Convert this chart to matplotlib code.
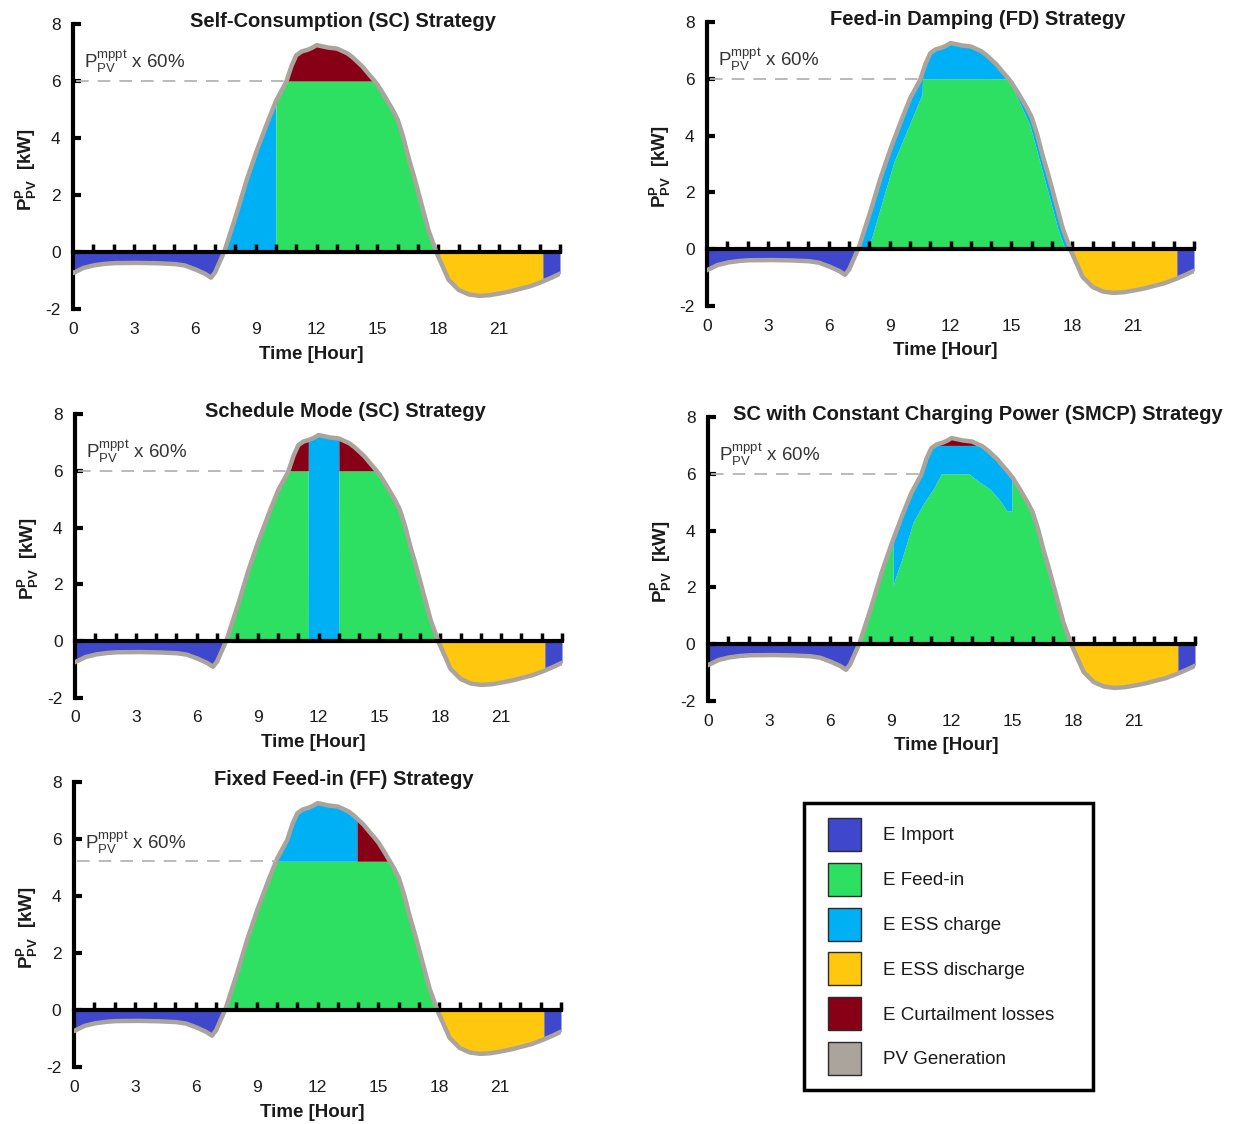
import numpy as np
import matplotlib
matplotlib.use("Agg")
import matplotlib.pyplot as plt
from matplotlib.patches import Patch
from matplotlib.legend_handler import HandlerPatch

plt.rcParams['font.family'] = ['Liberation Sans', 'DejaVu Sans']
plt.rcParams['mathtext.fontset'] = 'custom'
plt.rcParams['mathtext.rm'] = 'Liberation Sans'
plt.rcParams['mathtext.it'] = 'Liberation Sans:italic'
plt.rcParams['mathtext.bf'] = 'Liberation Sans:bold'
plt.rcParams['axes.unicode_minus'] = False

# net PV power over the day, same for every strategy
HOURS = [0, 0.5, 1, 1.5, 2, 3, 4, 5, 5.5, 6, 6.5, 6.8, 7, 7.45, 8, 8.5, 9, 9.5, 10,
         10.5, 10.75, 11, 11.25, 11.5, 11.75, 12, 12.5, 13, 13.5, 13.75, 14, 14.25, 14.5,
         14.75, 15, 15.25, 15.5, 15.75, 16, 16.25, 16.5, 16.75, 17, 17.5,
         17.9, 18.5, 19, 19.5, 20, 20.5, 21, 21.5, 22, 22.5, 23, 23.5, 24]
PV_NET = [-0.74, -0.56, -0.47, -0.42, -0.39, -0.38, -0.39, -0.42, -0.47, -0.60, -0.76,
          -0.90, -0.72, 0.0, 1.2, 2.4, 3.45, 4.4, 5.3,
          5.95, 6.5, 6.9, 7.03, 7.08, 7.15, 7.26, 7.18, 7.14, 6.98, 6.85, 6.68, 6.52, 6.3,
          6.1, 5.88, 5.6, 5.3, 5.0, 4.65, 4.1, 3.4, 2.8, 2.15, 0.8,
          0.0, -0.97, -1.33, -1.49, -1.54, -1.52, -1.46, -1.39, -1.3, -1.21, -1.08, -0.93, -0.76]

# feed-in limit per strategy [kW]
LIMIT_SC = 6.0
LIMIT_FF = 5.22
IMPORT_RESUME = 23.15      # ESS empty -> grid import again
SC_CHARGE_END = 10.0       # self consumption: ESS full
SCHED_WINDOW = (11.5, 13.0)
FF_CHARGE_END = 13.95

# feed-in damping: feed-in profile
FD_HOURS = [7.95, 9.2, 10.6, 10.62, 15.0, 15.05, 15.9, 17.3, 17.65]
FD_FEED = [0.0, 3.05, 5.46, 6.0, 6.0, 5.7, 4.4, 0.7, 0.0]

# SMCP: feed-in during constant charging window
SMCP_HOURS = [9.12, 9.6, 10.1, 10.6, 11.1, 11.5, 12.85, 13.4, 13.9, 14.4, 14.72, 14.97]
SMCP_FEED = [2.08, 3.1, 4.28, 4.93, 5.46, 6.0, 6.0, 5.7, 5.46, 5.05, 4.7, 4.7]
SMCP_CAP = 7.0

TITLES = ["Self-Consumption (SC) Strategy", "Feed-in Damping (FD) Strategy",
          "Schedule Mode (SC) Strategy", "SC with Constant Charging Power (SMCP) Strategy",
          "Fixed Feed-in (FF) Strategy"]
LEGEND_LABELS = ["E Import", "E Feed-in", "E ESS charge", "E ESS discharge",
                 "E Curtailment losses", "PV Generation"]
X_TICKS = [0, 3, 6, 9, 12, 15, 18, 21]

C_IMPORT = '#3f48cc'
C_FEED = '#2ee062'
C_CHARGE = '#00b0f4'
C_DISCH = '#ffc80f'
C_CURT = '#880015'
C_PV = '#aaa49c'
TXT = '#1a1a1a'

t = np.linspace(0, 24, 4801)
pv = np.interp(t, HOURS, PV_NET)
pos = np.maximum(pv, 0)
neg = np.minimum(pv, 0)
night = (t < 12) | (t > IMPORT_RESUME)
imp = np.where(night, neg, 0)
dis = np.where(night, 0, neg)


def regions_sc():
    charge = np.where(t < SC_CHARGE_END, pos, 0)
    feed = np.where(t >= SC_CHARGE_END, np.minimum(pos, LIMIT_SC), 0)
    return [(0, charge, C_CHARGE), (0, feed, C_FEED),
            (np.minimum(pos, LIMIT_SC), pos, C_CURT)], LIMIT_SC


def regions_fd():
    fd = np.interp(t, FD_HOURS, FD_FEED, left=0, right=0)
    feed = np.minimum(pos, fd)
    return [(0, feed, C_FEED), (feed, pos, C_CHARGE)], LIMIT_SC


def regions_sched():
    inw = (t >= SCHED_WINDOW[0]) & (t <= SCHED_WINDOW[1])
    feed = np.where(inw, 0, np.minimum(pos, LIMIT_SC))
    charge = np.where(inw, pos, 0)
    curt_lo = np.where(inw, pos, np.minimum(pos, LIMIT_SC))
    return [(0, feed, C_FEED), (0, charge, C_CHARGE), (curt_lo, pos, C_CURT)], LIMIT_SC


def regions_smcp():
    inw = (t >= SMCP_HOURS[0]) & (t <= SMCP_HOURS[-1])
    sm = np.interp(t, SMCP_HOURS, SMCP_FEED)
    feed = np.where(inw, np.minimum(sm, pos), pos)
    ch_top = np.maximum(np.minimum(pos, SMCP_CAP), feed)
    return [(0, feed, C_FEED), (feed, ch_top, C_CHARGE), (ch_top, pos, C_CURT)], LIMIT_SC


def regions_ff():
    feed = np.minimum(pos, LIMIT_FF)
    ch_top = np.where(t < FF_CHARGE_END, pos, feed)
    return [(0, feed, C_FEED), (feed, ch_top, C_CHARGE), (ch_top, pos, C_CURT)], LIMIT_FF


def draw(ax, title, regions, limit):
    ax.fill_between(t, imp, 0, color=C_IMPORT, lw=0)
    ax.fill_between(t, dis, 0, color=C_DISCH, lw=0)
    for lo, hi, c in regions:
        ax.fill_between(t, lo, hi, color=c, lw=0)
    ax.plot(t, pv, color=C_PV, lw=3.2, solid_capstyle='round', solid_joinstyle='round',
            zorder=3)
    t_cross = t[np.argmax(pv >= limit)]
    ax.hlines(limit, 0.15, t_cross, colors='#b4b4b4', linestyles=(0, (7, 5)), lw=1.3,
              zorder=3)
    ax.text(0.55, limit + 0.45, r'$\mathrm{P_{PV}^{mppt}}$ x 60%', fontsize=13.5,
            color='#333333', va='baseline')

    ax.set_xlim(0, 24)
    ax.set_ylim(-2, 8)
    for s in ['top', 'right']:
        ax.spines[s].set_visible(False)
    ax.spines['left'].set_linewidth(3)
    ax.spines['bottom'].set_linewidth(3)
    ax.spines['bottom'].set_position(('data', 0))
    ax.spines['bottom'].set_zorder(4)
    ax.set_xticks(np.arange(1, 25))
    ax.tick_params(axis='x', direction='in', length=6, width=2.5, labelbottom=False)
    ax.set_yticks(range(-2, 9, 2))
    ax.tick_params(axis='y', direction='in', length=6, width=3, labelsize=12.5,
                   pad=9, labelcolor=TXT)
    sec = ax.secondary_xaxis('bottom')
    sec.set_xticks(X_TICKS)
    sec.tick_params(length=0, labelsize=12.5, pad=9, labelcolor=TXT)
    sec.spines['bottom'].set_visible(False)

    ax.text(0.555, 1.01, title, transform=ax.transAxes, ha='center', va='center',
            fontsize=14.5, fontweight='bold', color=TXT)
    ax.text(0.49, -0.158, 'Time [Hour]', transform=ax.transAxes, ha='center',
            va='center', fontsize=13.5, fontweight='bold', color=TXT)
    ax.text(-0.095, 0.49, r'$\mathbf{P_{PV}^{P}}$  [kW]', transform=ax.transAxes,
            rotation=90, ha='center', va='center', fontsize=13.5, fontweight='bold',
            color=TXT)


fig = plt.figure(figsize=(12.4, 11.24), dpi=100)
W, H = 1240, 1124
# left px, top px, bottom px of each panel
boxes = [(73, 24, 309), (707, 22, 306), (75, 414, 698), (708, 417, 701), (74, 782, 1067)]
funcs = [regions_sc, regions_fd, regions_sched, regions_smcp, regions_ff]
for (l, tp, b), title, f in zip(boxes, TITLES, funcs):
    ax = fig.add_axes([l / W, 1 - b / H, 487 / W, (b - tp) / H])
    regs, lim = f()
    draw(ax, title, regs, lim)

colors = [C_IMPORT, C_FEED, C_CHARGE, C_DISCH, C_CURT, C_PV]
handles = [Patch(facecolor=c, edgecolor='#2a2a2a', lw=1, label=lab)
           for c, lab in zip(colors, LEGEND_LABELS)]
leg = fig.legend(handles=handles, loc='upper left',
                 bbox_to_anchor=(804 / W, 1 - 1094 / H, 289 / W, 291 / H),
                 mode='expand', fancybox=False, edgecolor='black', framealpha=1,
                 fontsize=13.5, handlelength=2.24, handleheight=2.33, labelspacing=0.63,
                 handletextpad=1.15, borderpad=0.8, borderaxespad=0,
                 handler_map={Patch: HandlerPatch(xpad=0.48)})
leg.get_frame().set_linewidth(2.5)
for txt in leg.get_texts():
    txt.set_color(TXT)

fig.savefig('out.png', dpi=100)
